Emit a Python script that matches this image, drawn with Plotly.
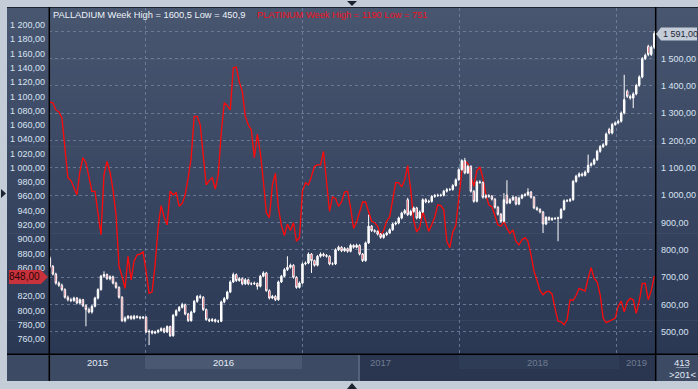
import plotly.graph_objects as go
import pandas as pd

# ---------------- data ----------------
start_date = "2015-05-24"   # first weekly bar

pd_open = [
770, 739, 711, 678, 670, 654, 626, 617, 614, 623,
605, 617, 595, 581, 572, 593, 623, 654, 703, 709,
694, 701, 678, 662, 626, 540, 550, 556, 548, 556,
553, 550, 553, 499, 501, 495, 499, 504, 511, 499,
519, 485, 560, 577, 589, 599, 565, 540, 572, 611,
629, 626, 581, 544, 540, 544, 538, 538, 609, 621,
645, 682, 709, 687, 694, 675, 690, 675, 675, 677,
666, 703, 715, 650, 623, 629, 617, 682, 703, 727,
736, 743, 699, 662, 678, 748, 751, 784, 760, 743,
776, 784, 779, 776, 748, 748, 800, 809, 796, 804,
794, 816, 809, 816, 784, 760, 825, 886, 870, 867,
857, 845, 855, 861, 873, 894, 898, 916, 934, 983,
928, 940, 953, 916, 938, 983, 975, 977, 995, 998,
999, 999, 1014, 1020, 1020, 1035, 1056, 1093, 1126, 1081,
1105, 1014, 977, 1048, 1046, 992, 997, 996, 985, 955,
930, 904, 1000, 971, 983, 992, 967, 989, 999, 1001,
1011, 992, 953, 947, 938, 894, 918, 910, 914, 914,
916, 947, 979, 979, 983, 1050, 1069, 1077, 1072, 1084,
1109, 1114, 1129, 1160, 1177, 1184, 1240, 1227, 1258, 1264,
1270, 1300, 1380, 1361, 1355, 1370, 1401, 1432, 1499, 1544,
1514, 1541]

pd_high = [
776, 744, 716, 684, 676, 659, 632, 624, 628, 627,
622, 620, 600, 588, 598, 628, 659, 708, 721, 713,
706, 705, 683, 666, 630, 556, 561, 560, 562, 560,
558, 557, 557, 508, 506, 504, 509, 516, 515, 523,
522, 565, 582, 594, 606, 603, 569, 577, 616, 634,
636, 630, 585, 549, 550, 548, 544, 614, 627, 650,
688, 716, 713, 700, 698, 696, 694, 681, 683, 680,
708, 721, 719, 655, 635, 634, 687, 708, 733, 776,
749, 747, 703, 684, 753, 757, 790, 788, 764, 781,
790, 789, 784, 780, 754, 805, 815, 813, 810, 808,
822, 820, 822, 820, 788, 830, 928, 890, 875, 871,
861, 860, 866, 878, 899, 904, 921, 939, 949, 990,
946, 958, 957, 944, 988, 988, 983, 1000, 1004, 1005,
1005, 1019, 1026, 1026, 1040, 1061, 1098, 1131, 1136, 1111,
1109, 1018, 1053, 1054, 1050, 1003, 1003, 1000, 989, 960,
934, 1007, 1054, 989, 998, 996, 994, 1004, 1007, 1025,
1015, 996, 958, 952, 942, 923, 922, 919, 920, 921,
952, 984, 985, 989, 1055, 1074, 1083, 1082, 1090, 1148,
1120, 1135, 1166, 1183, 1190, 1229, 1246, 1264, 1270, 1276,
1306, 1440, 1386, 1367, 1376, 1407, 1438, 1505, 1518, 1550,
1547, 1600.5]

pd_low = [
734, 706, 672, 664, 648, 621, 611, 608, 609, 600,
600, 590, 520, 567, 566, 589, 618, 650, 698, 689,
688, 673, 657, 621, 536, 534, 545, 543, 544, 548,
545, 546, 495, 451, 490, 491, 494, 500, 494, 495,
481, 482, 556, 573, 585, 560, 536, 537, 568, 606,
620, 576, 540, 535, 536, 533, 532, 535, 604, 617,
641, 678, 682, 683, 670, 671, 670, 670, 671, 654,
662, 699, 646, 618, 619, 612, 613, 678, 699, 722,
731, 694, 657, 658, 674, 743, 747, 715, 738, 739,
771, 774, 771, 743, 743, 744, 795, 791, 792, 789,
790, 804, 805, 779, 755, 756, 821, 865, 862, 852,
840, 840, 850, 857, 869, 889, 893, 911, 929, 923,
923, 935, 911, 912, 934, 970, 970, 972, 990, 993,
994, 995, 1009, 1015, 1016, 1031, 1052, 1089, 1076, 1077,
1009, 972, 973, 1041, 987, 987, 990, 980, 950, 925,
899, 900, 966, 967, 978, 962, 963, 985, 994, 996,
987, 948, 942, 933, 861, 890, 905, 905, 909, 831,
912, 943, 974, 974, 979, 1045, 1064, 1067, 1068, 1080,
1104, 1109, 1125, 1155, 1172, 1180, 1222, 1222, 1253, 1259,
1265, 1295, 1355, 1349, 1318, 1365, 1396, 1427, 1494, 1508,
1509, 1535]

pd_close = [
739, 711, 678, 670, 654, 626, 617, 614, 623, 605,
617, 595, 581, 572, 593, 623, 654, 703, 709, 694,
701, 678, 662, 626, 540, 550, 556, 548, 556, 553,
550, 553, 499, 501, 495, 499, 504, 511, 499, 519,
485, 560, 577, 589, 599, 565, 540, 572, 611, 629,
626, 581, 544, 540, 544, 538, 538, 609, 621, 645,
682, 709, 687, 694, 675, 690, 675, 675, 677, 666,
703, 715, 650, 623, 629, 617, 682, 703, 727, 736,
743, 699, 662, 678, 748, 751, 784, 760, 743, 776,
784, 779, 776, 748, 748, 800, 809, 796, 804, 794,
816, 809, 816, 784, 760, 825, 886, 870, 867, 857,
845, 855, 861, 873, 894, 898, 916, 934, 943, 928,
940, 953, 916, 938, 983, 975, 977, 995, 998, 999,
999, 1014, 1020, 1020, 1035, 1056, 1093, 1126, 1081, 1105,
1014, 977, 1048, 1046, 992, 997, 996, 985, 955, 930,
904, 983, 971, 983, 992, 967, 989, 999, 1001, 1011,
992, 953, 947, 938, 894, 918, 910, 914, 914, 916,
947, 979, 979, 983, 1050, 1069, 1077, 1072, 1084, 1109,
1114, 1129, 1160, 1177, 1184, 1223, 1227, 1258, 1264, 1270,
1300, 1349, 1361, 1355, 1370, 1401, 1432, 1499, 1511, 1514,
1541, 1591]

platinum = [
1092, 1091, 1081, 1078, 1070, 1025, 986, 982, 971, 962,
995, 1014, 1007, 985, 967, 967, 934, 906, 990, 1009,
994, 969, 934, 862, 848, 831, 876, 843, 869, 878,
879, 882, 855, 824, 826, 864, 916, 947, 931, 920,
967, 962, 965, 946, 950, 962, 986, 1014, 1072, 1072,
1060, 1018, 976, 982, 986, 970, 990, 1049, 1091, 1087,
1081, 1140, 1141, 1120, 1107, 1072, 1060, 1053, 1014, 1047,
1021, 981, 937, 930, 976, 992, 944, 919, 905, 921,
912, 923, 897, 902, 967, 979, 976, 988, 1002, 1004,
1004, 1023, 981, 939, 959, 957, 946, 952, 966, 967,
944, 915, 924, 939, 952, 952, 937, 925, 923, 918,
905, 912, 925, 931, 955, 979, 979, 973, 983, 1003,
969, 926, 910, 916, 939, 924, 911, 920, 931, 948,
947, 941, 897, 888, 910, 919, 962, 995, 1009, 1006,
988, 974, 996, 1001, 986, 962, 948, 945, 933, 920,
918, 925, 915, 908, 913, 897, 892, 899, 902, 897,
878, 855, 842, 828, 822, 826, 827, 823, 803, 785,
784, 780, 787, 815, 814, 821, 831, 829, 827, 845,
860, 845, 840, 822, 789, 783, 785, 788, 789, 806,
813, 798, 812, 817, 815, 796, 813, 838, 838, 815,
828, 848]

# left-axis labels (the 840 label is hidden behind the last-value marker)
left_tickvals = [760, 780, 800, 820, 860, 880, 900, 920, 940, 960, 980,
                 1000, 1020, 1040, 1060, 1080, 1100, 1120, 1140, 1160, 1180, 1200]
left_ticktext = ["760,00", "780,00", "800,00", "820,00", "860,00", "880,00",
                 "900,00", "920,00", "940,00", "960,00", "980,00", "1 000,00", "1 020,00",
                 "1 040,00", "1 060,00", "1 080,00", "1 100,00", "1 120,00", "1 140,00",
                 "1 160,00", "1 180,00", "1 200,00"]
right_tickvals = [500, 600, 700, 800, 900, 1000, 1100, 1200, 1300, 1400, 1500, 1600]
right_ticktext = ["500,00", "600,00", "700,00", "800,00", "900,00", "1 000,00", "1 100,00",
                  "1 200,00", "1 300,00", "1 400,00", "1 500,00", ""]
year_ticks = ["2016-01-01", "2017-01-01", "2018-01-01", "2019-01-01"]
year_labels = ["2015", "2016", "2017", "2018", "2019"]
year_label_x = ["2015-09-12", "2016-07-02", "2017-07-02", "2018-07-02", "2019-02-17"]
title_pd = "PALLADIUM Week High = 1600,5 Low = 450,9"
title_pt = "PLATINUM Week High = 1190 Low = 751"
last_pt_label = "848,00"
last_pd_label = "1 591,00"
last_pt = platinum[-1]
last_pd = pd_close[-1]

n = len(pd_close)
assert len(pd_open) == n and len(pd_high) == n and len(pd_low) == n and len(platinum) == n
dates = pd.date_range(start_date, periods=n, freq="7D")

# ---------------- geometry helpers ----------------
W, H = 698, 389
ML, MR, MT, MB = 49, 42, 8, 35
PW, PH = W - ML - MR, H - MT - MB


def X(px):
    return (px - ML) / PW


def Y(py):
    return (H - MB - py) / PH


shapes = []
# panel gradient background
top_c = (72, 86, 112)
bot_c = (43, 56, 84)
nb = 40
y_top, y_bot = 7, 355
for k in range(nb):
    t = (k + 0.5) / nb
    c = tuple(int(round(top_c[j] + (bot_c[j] - top_c[j]) * t)) for j in range(3))
    ya = y_top + (y_bot - y_top) * k / nb
    yb = y_top + (y_bot - y_top) * (k + 1) / nb + 0.6
    shapes.append(dict(type="rect", xref="paper", yref="paper", x0=X(7), x1=X(698),
                       y0=Y(yb), y1=Y(ya), line=dict(width=0),
                       fillcolor="rgb(%d,%d,%d)" % c, layer="below"))


def rect(x0, y0, x1, y1, color, layer="below"):
    shapes.append(dict(type="rect", xref="paper", yref="paper", x0=X(x0), x1=X(x1),
                       y0=Y(y1), y1=Y(y0), line=dict(width=0), fillcolor=color, layer=layer))


# bottom strip
rect(7, 354, 698, 381, "#3d4a64")
rect(145, 355.5, 302, 369, "#4a5872")
rect(359, 354.5, 655.5, 381, "#2a364f")
rect(459, 355.5, 619, 369, "#2f3c56")
rect(358, 354.5, 360, 381, "#55627a")


def line(x0, y0, x1, y1, color="#000000", width=1.5):
    shapes.append(dict(type="line", xref="paper", yref="paper", x0=X(x0), x1=X(x1),
                       y0=Y(y0), y1=Y(y1), line=dict(color=color, width=width), layer="above"))


# black frame lines
line(7, 7.5, 698, 7.5, "#1a2130", 1)
line(7, 354.3, 698, 354.3)
line(49.3, 7, 49.3, 381)
line(655.7, 7, 655.7, 381)
line(676, 367.5, 689, 367.5, "#8a96aa", 1)


def poly(pts, color="#1b2331"):
    path = "M " + " L ".join("%f,%f" % (X(a), Y(b)) for a, b in pts) + " Z"
    shapes.append(dict(type="path", xref="paper", yref="paper", path=path,
                       fillcolor=color, line=dict(width=0), layer="above"))


# small UI triangles
poly([(347, 1), (357, 1), (352, 6)])
poly([(347, 389), (357, 389), (352, 383)])
poly([(1, 189), (1, 198), (6, 193.5)])

# last value markers
poly([(9, 270), (41, 270), (48, 277), (41, 284), (9, 284)], "#c8323c")
poly([(656, 34), (661, 27.5), (697, 27.5), (697, 40.5), (661, 40.5)], "#c4ccd8")

# ---------------- figure ----------------
fig = go.Figure()
fig.add_trace(go.Scatter(
    x=dates, y=platinum, mode="lines", yaxis="y",
    line=dict(color="#ff0a0a", width=1.3), hoverinfo="skip", showlegend=False))
fig.add_trace(go.Candlestick(
    x=dates, open=pd_open, high=pd_high, low=pd_low, close=pd_close, yaxis="y2",
    increasing=dict(line=dict(color="#ffffff", width=1), fillcolor="#ffffff"),
    decreasing=dict(line=dict(color="#ffffff", width=1), fillcolor="#e8102c"),
    whiskerwidth=0, showlegend=False, hoverinfo="skip"))

FONT = "Liberation Sans, Arial, sans-serif"
tick_font = dict(family=FONT, size=9, color="#d8e3f2")
grid_col = "rgba(120,136,165,0.75)"

fig.update_layout(
    template="none",
    width=W, height=H,
    margin=dict(l=ML, r=MR, t=MT, b=MB, pad=0, autoexpand=False),
    paper_bgcolor="#c4ccd7",
    plot_bgcolor="rgba(0,0,0,0)",
    showlegend=False,
    xaxis=dict(type="date", range=["2015-05-22", "2019-04-04"], automargin=False,
               tickvals=year_ticks, showticklabels=False, ticks="",
               showgrid=True, gridcolor=grid_col, griddash="3px,3px", gridwidth=1,
               zeroline=False, showline=False, rangeslider=dict(visible=False)),
    yaxis=dict(range=[739.0, 1223.8], side="left", tickvals=left_tickvals, automargin=False,
               ticktext=left_ticktext, tickfont=tick_font, ticks="",
               showgrid=False, zeroline=False, showline=False, ticklabelstandoff=3),
    yaxis2=dict(range=[418.4, 1684.4], side="right", overlaying="y", automargin=False,
                tickvals=right_tickvals, ticktext=right_ticktext, tickfont=tick_font,
                ticks="", showgrid=True, gridcolor=grid_col, griddash="3px,3px",
                gridwidth=1, zeroline=False, showline=False, ticklabelstandoff=4),
    shapes=shapes,
)

annotations = [
    dict(text=title_pd, x=X(51), y=Y(15), xref="paper", yref="paper",
         xanchor="left", yanchor="middle", showarrow=False,
         font=dict(family=FONT, size=9.3, color="#eef3fa")),
    dict(text=title_pt, x=X(255), y=Y(15), xref="paper", yref="paper",
         xanchor="left", yanchor="middle", showarrow=False,
         font=dict(family=FONT, size=9.3, color="#f01020")),
    dict(text=last_pt_label, x=X(42), y=last_pt, xref="paper", yref="y",
         xanchor="right", yanchor="middle", showarrow=False,
         font=dict(family=FONT, size=10, color="#2a0505")),
    dict(text=last_pd_label, x=X(661), y=last_pd, xref="paper", yref="y2",
         xanchor="left", yanchor="middle", showarrow=False,
         font=dict(family=FONT, size=9, color="#1c2636")),
    dict(text="413", x=X(682), y=Y(362), xref="paper", yref="paper",
         xanchor="center", yanchor="middle", showarrow=False,
         font=dict(family=FONT, size=9.5, color="#e2e9f4")),
    dict(text="&gt;201&lt;", x=X(682), y=Y(374), xref="paper", yref="paper",
         xanchor="center", yanchor="middle", showarrow=False,
         font=dict(family=FONT, size=9.5, color="#e2e9f4")),
]
year_colors = ["#e4ebf5", "#e4ebf5", "#6e7b92", "#6e7b92", "#6e7b92"]
for lab, xd, col in zip(year_labels, year_label_x, year_colors):
    annotations.append(dict(text=lab, x=xd, y=Y(362.5), xref="x", yref="paper",
                            xanchor="center", yanchor="middle", showarrow=False,
                            font=dict(family=FONT, size=9.5, color=col)))
fig.update_layout(annotations=annotations)

fig.write_html("out.html",
               config={"displayModeBar": False, "staticPlot": True},
               post_script="document.body.style.margin='0px';"
                           "document.body.style.overflow='hidden';")
